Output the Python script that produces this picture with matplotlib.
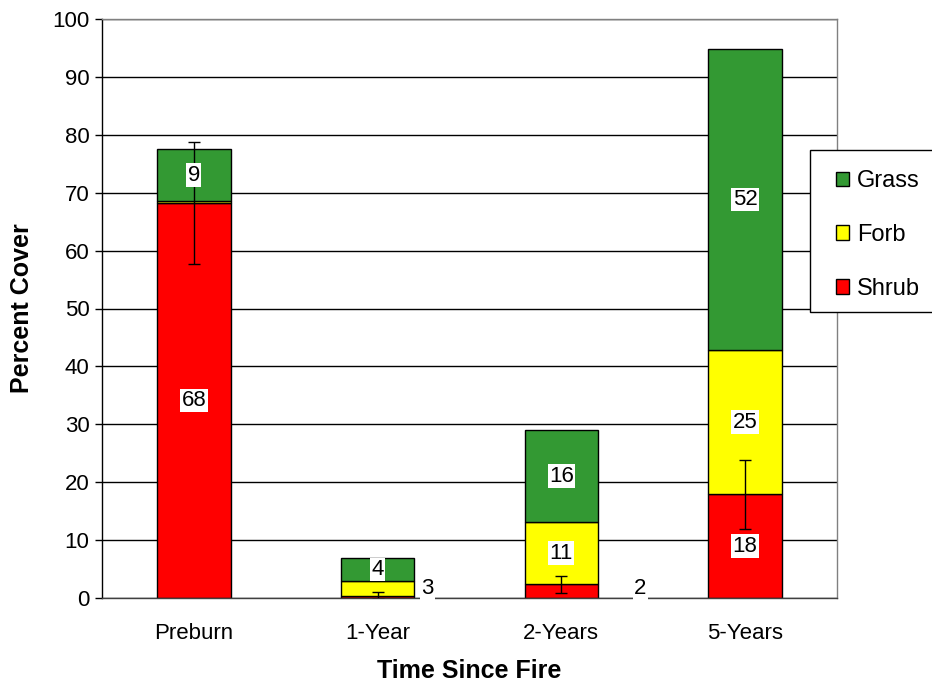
import numpy as np
import matplotlib
matplotlib.use("Agg")
import matplotlib.pyplot as plt
from matplotlib.patches import Rectangle

plt.rcParams['font.family'] = ['Liberation Sans', 'DejaVu Sans']

# ----------------------------------------------------
# Data
# ----------------------------------------------------
categories = ["Preburn", "1-Year", "2-Years", "5-Years"]
shrub = [68.2, 0.4, 2.35, 17.9]
forb = [0.35, 2.6, 10.75, 24.9]
grass = [9.0, 3.85, 15.9, 52.0]
shrub_err = [10.55, 0.6, 1.45, 6.0]

shrub_labels = ["68", None, None, "18"]
forb_labels = [None, None, "11", "25"]
grass_labels = ["9", "4", "16", "52"]
# labels that sit beside the bars at the base
side_labels = ["", "3", "2", ""]

series_names = ["Shrub", "Forb", "Grass"]
series_colors = ["#FF0000", "#FFFF00", "#339933"]

# ----------------------------------------------------
# Plot
# ----------------------------------------------------
W, H = 932, 683
fig = plt.figure(figsize=(W / 100, H / 100), dpi=100)
ax = fig.add_axes([102 / W, 1 - 598 / H, 735 / W, 579 / H])

x = np.arange(len(categories))
width = 0.4
bottom = np.zeros(len(categories))
handles = []
all_vals = [shrub, forb, grass]
all_labels = [shrub_labels, forb_labels, grass_labels]
for vals, labs, name, col in zip(all_vals, all_labels, series_names, series_colors):
    vals = np.array(vals)
    b = ax.bar(x, vals, width, bottom=bottom, color=col, edgecolor="black",
               linewidth=1.0, label=name, zorder=3)
    handles.append(b)
    for xi, v, bt, lab in zip(x, vals, bottom, labs):
        if lab:
            ax.text(xi, bt + v / 2, lab, ha="center", va="center", fontsize=16,
                    zorder=6, bbox=dict(facecolor="white", edgecolor="none", pad=1.0))
    bottom = bottom + vals

ax.errorbar(x, shrub, yerr=shrub_err, fmt="none", ecolor="black", elinewidth=1.0,
            capsize=4, capthick=1.0, zorder=5)

side_dx = [0, 0.27, 0.43, 0]
for xi, lab, dx in zip(x, side_labels, side_dx):
    if lab:
        ax.text(xi + dx, 1.7, lab, ha="center", va="center", fontsize=16, zorder=6,
                clip_on=False, bbox=dict(facecolor="white", edgecolor="none", pad=1.0))

ax.set_xlim(-0.5, 3.5)
ax.set_ylim(0, 100)
ax.set_yticks(np.arange(0, 101, 10))
ax.set_xticks(x)
ax.set_xticklabels(categories, fontsize=16)
ax.tick_params(axis="y", labelsize=16, length=5, width=1.0, direction="out", pad=4)
ax.tick_params(axis="x", length=0, pad=18)
ax.yaxis.grid(True, color="black", linewidth=1.0, zorder=0)
ax.set_axisbelow(True)

ax.spines["left"].set_color("black")
ax.spines["bottom"].set_color("#404040")
ax.spines["top"].set_color("#808080")
ax.spines["right"].set_color("#808080")
for s in ax.spines.values():
    s.set_linewidth(1.0)
    s.set_zorder(4)

ax.set_ylabel("Percent Cover", fontsize=18, fontweight="bold", labelpad=13)
ax.set_xlabel("Time Since Fire", fontsize=18, fontweight="bold", labelpad=11)

# legend box
fig.patches.append(Rectangle((810 / W, 1 - 312 / H), 130 / W, 162 / H,
                             transform=fig.transFigure, facecolor="white",
                             edgecolor="black", linewidth=1.0, zorder=4))
leg = fig.legend(handles[::-1], series_names[::-1], loc="upper left",
                 bbox_to_anchor=(836 / W, 1 - 170 / H), fontsize=17,
                 frameon=False, handlelength=0.55, handleheight=0.55,
                 handletextpad=0.35, labelspacing=1.35, borderpad=0,
                 borderaxespad=0)
leg.set_zorder(5)

fig.savefig("out.png", dpi=100)
